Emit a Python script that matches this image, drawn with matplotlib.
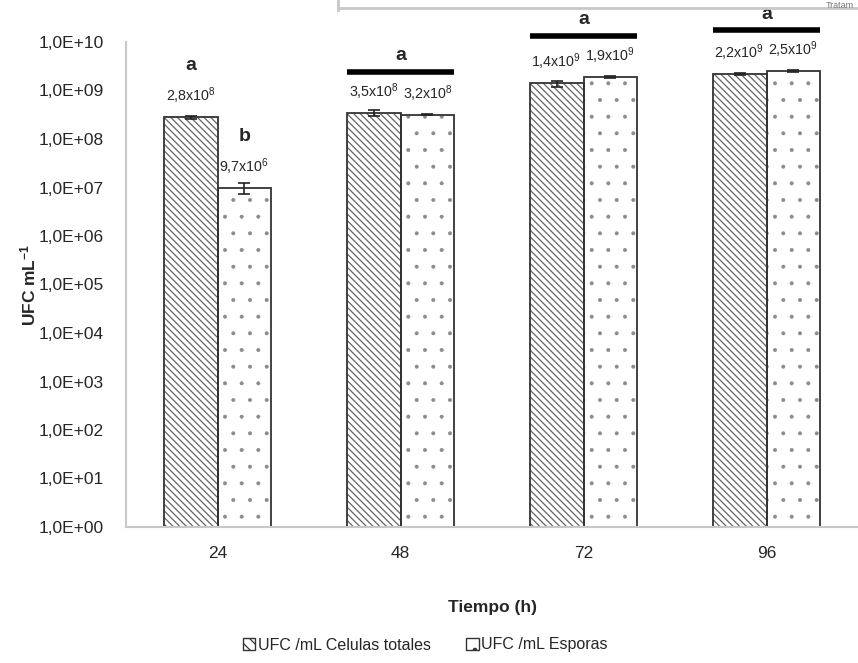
import numpy as np
import matplotlib
matplotlib.use("Agg")
import matplotlib.pyplot as plt
from matplotlib.lines import Line2D
from matplotlib.patches import Patch

plt.rcParams['font.family'] = ['Liberation Sans Narrow', 'Liberation Sans', 'DejaVu Sans']
plt.rcParams['mathtext.default'] = 'regular'

# datos
tiempos = ['24', '48', '72', '96']
celulas = [2.8e8, 3.5e8, 1.4e9, 2.2e9]
esporas = [9.7e6, 3.2e8, 1.9e9, 2.5e9]
err_cel = [2.0e7, 5.0e7, 2.0e8, 1.0e8]
err_esp = [2.5e6, 1.0e7, 1.0e8, 1.0e8]
etiq_cel = ['2,8x10$^{8}$', '3,5x10$^{8}$', '1,4x10$^{9}$', '2,2x10$^{9}$']
etiq_esp = ['9,7x10$^{6}$', '3,2x10$^{8}$', '1,9x10$^{9}$', '2,5x10$^{9}$']
letras_cel = ['a', None, None, None]
letras_esp = ['b', None, None, None]
letras_grupo = [None, 'a', 'a', 'a']
yticks = [10.0 ** k for k in range(0, 11)]
ytick_lab = ['1,0E+%02d' % k for k in range(0, 11)]

W, H = 858, 663
fig = plt.figure(figsize=(W / 100, H / 100), dpi=100)
ax = fig.add_axes([126 / W, (H - 527) / H, 732 / W, 485 / H])

x = np.arange(len(tiempos))
ancho = 0.295
txt = '#262626'

# relleno con trama (borde = color de la trama) y luego contorno negro
plt.rcParams['hatch.linewidth'] = 0.9
ax.bar(x - ancho / 2, celulas, ancho, color='white', edgecolor='#666666',
       hatch='\\\\\\\\\\', linewidth=0, zorder=2)
plt.rcParams['hatch.linewidth'] = 0.4
ax.bar(x + ancho / 2, esporas, ancho, color='white', edgecolor='#8a8a8a',
       hatch='.', linewidth=0, zorder=2)
ax.bar(x - ancho / 2, celulas, ancho, fill=False, edgecolor='#333333', linewidth=1.3, zorder=2.5)
ax.bar(x + ancho / 2, esporas, ancho, fill=False, edgecolor='#333333', linewidth=1.3, zorder=2.5)

ax.errorbar(x - ancho / 2, celulas, yerr=err_cel, fmt='none', ecolor='#222222',
            elinewidth=1.2, capsize=4, capthick=1.2, zorder=3)
ax.errorbar(x + ancho / 2, esporas, yerr=err_esp, fmt='none', ecolor='#222222',
            elinewidth=1.2, capsize=4, capthick=1.2, zorder=3)

ax.set_yscale('log')
ax.set_ylim(1, 1e10)
ax.set_xlim(-0.5, 3.5)
ax.set_yticks(yticks)
ax.set_yticklabels(ytick_lab)
ax.minorticks_off()
ax.set_xticks(x)
ax.set_xticklabels(tiempos)
ax.tick_params(axis='both', length=0, labelsize=12.5, colors=txt, pad=14)
ax.tick_params(axis='y', pad=16)
for s in ['top', 'right']:
    ax.spines[s].set_visible(False)
for s in ['left', 'bottom']:
    ax.spines[s].set_color('#c8c8c8')
    ax.spines[s].set_linewidth(1.5)

ax.set_xlabel('Tiempo (h)', fontsize=12.5, fontweight='bold', color=txt, labelpad=28)
ax.set_ylabel('UFC mL$^{-1}$', fontsize=12.5, fontweight='bold', color=txt, labelpad=0)

# etiquetas de valores
for i in range(len(tiempos)):
    for xx, v, lab in [(x[i] - ancho / 2, celulas[i], etiq_cel[i]),
                       (x[i] + ancho / 2, esporas[i], etiq_esp[i])]:
        ax.annotate(lab, (xx, v), xytext=(0, 11), textcoords='offset pixels',
                    ha='center', va='bottom', fontsize=10.3, color=txt, annotation_clip=False)
    for xx, v, l in [(x[i] - ancho / 2, celulas[i], letras_cel[i]),
                     (x[i] + ancho / 2, esporas[i], letras_esp[i])]:
        if l:
            ax.annotate(l, (xx, v), xytext=(0, 52), textcoords='offset pixels',
                        ha='center', va='center', fontsize=14, fontweight='bold',
                        color=txt, annotation_clip=False)
    if letras_grupo[i]:
        top = max(celulas[i], esporas[i])
        ylin = top * 10 ** (41 / 48.5)
        ax.plot([x[i] - ancho, x[i] + ancho], [ylin, ylin], color='black', lw=4,
                clip_on=False, solid_capstyle='butt')
        ax.annotate(letras_grupo[i], (x[i], ylin), xytext=(0, 16), textcoords='offset pixels',
                    ha='center', va='center', fontsize=14, fontweight='bold',
                    color=txt, annotation_clip=False)

# leyenda
plt.rcParams['hatch.linewidth'] = 0.9
h1 = Patch(facecolor='white', edgecolor='#333333', hatch='\\\\\\')
h2 = Patch(facecolor='white', edgecolor='#333333', hatch='.')
fig.legend([h1, h2], ['UFC /mL Celulas totales', 'UFC /mL Esporas'],
           loc='center', bbox_to_anchor=(425 / W, 1 - 645 / H), ncol=2, frameon=False,
           handlelength=0.8, handleheight=0.8, handletextpad=0.15, columnspacing=2.2,
           fontsize=11.5, labelcolor=txt)

# recuadro cortado arriba
fig.add_artist(Line2D([338 / W, 1], [1 - 8 / H, 1 - 8 / H], color='#c8c8c8', lw=2))
fig.add_artist(Line2D([338 / W, 338 / W], [1 - 10 / H, 1], color='#c8c8c8', lw=2))
fig.text(1 - 4 / W, 1 - 0.5 / H, 'Tratam', ha='right', va='top', fontsize=6.5, color='#777777')

fig.savefig('out.png', dpi=100)
